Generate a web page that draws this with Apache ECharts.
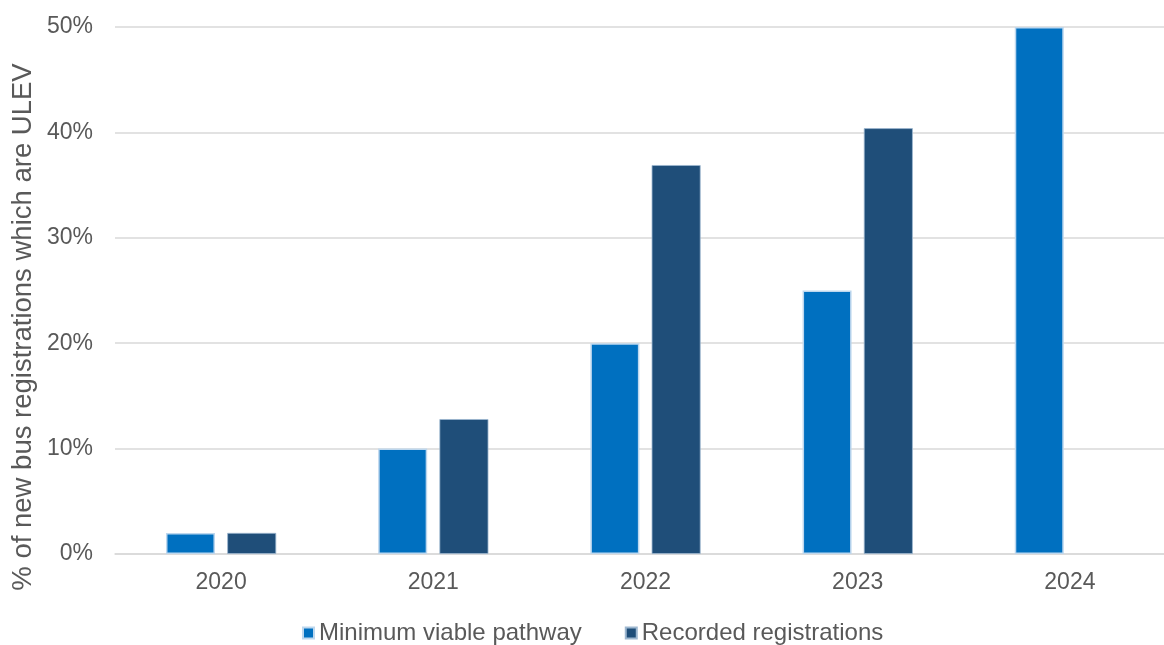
<!DOCTYPE html>
<html><head><meta charset="utf-8">
<script src="https://cdn.jsdelivr.net/npm/echarts@6/dist/echarts.min.js"></script>
<style>html,body{margin:0;padding:0;background:#fff;overflow:hidden;width:1164px;height:645px}#c{width:1176px;height:645px}</style>
</head><body><div id="c"></div>
<script>
const categories = ['2020','2021','2022','2023','2024'];
const minimumViable = [2, 10, 20, 25, 50];
const recorded = [2, 12.8, 36.9, 40.4, null];
const yTicks = [0, 10, 20, 30, 40, 50];
const seriesNames = ['Minimum viable pathway', 'Recorded registrations'];

const chart = echarts.init(document.getElementById('c'));
const font = 'Liberation Sans, Arial, sans-serif';
chart.setOption({
  animation: false,
  grid: {left: 115, right: 0, top: 27, height: 527, containLabel: false},
  legend: {
    top: 621, left: 302, padding: 0,
    itemWidth: 11, itemHeight: 11, itemGap: 43,
    icon: 'rect',
    textStyle: {color: '#595959', fontSize: 24, fontFamily: font},
    data: seriesNames
  },
  graphic: [{
    type: 'text', x: 9, y: 327, rotation: Math.PI / 2,
    style: {text: '% of new bus registrations which are ULEV', fill: '#595959', fontSize: 27.5, fontFamily: font,
      textAlign: 'center', textVerticalAlign: 'top'}
  }],
  xAxis: {
    type: 'category', data: categories,
    axisLine: {show: true, lineStyle: {color: '#D9D9D9', width: 1.5}},
    axisTick: {show: false},
    axisLabel: {color: '#595959', fontSize: 23, fontFamily: font, margin: 17}
  },
  yAxis: {
    type: 'value', min: yTicks[0], max: yTicks[yTicks.length - 1], interval: 10,
    axisLine: {show: false}, axisTick: {show: false},
    axisLabel: {color: '#595959', fontSize: 23, fontFamily: font, margin: 22, formatter: v => v + '%'},
    splitLine: {lineStyle: {color: '#D9D9D9', width: 1.5}}
  },
  series: [
    {name: seriesNames[0], type: 'bar', data: minimumViable, barWidth: 49, barGap: '25%',
      itemStyle: {color: '#0070C0', borderColor: '#BDD7EE', borderWidth: 1.5}},
    {name: seriesNames[1], type: 'bar', data: recorded, barWidth: 49,
      itemStyle: {color: '#1F4E79', borderColor: '#9DB7D0', borderWidth: 0.8}}
  ]
});
</script></body></html>
